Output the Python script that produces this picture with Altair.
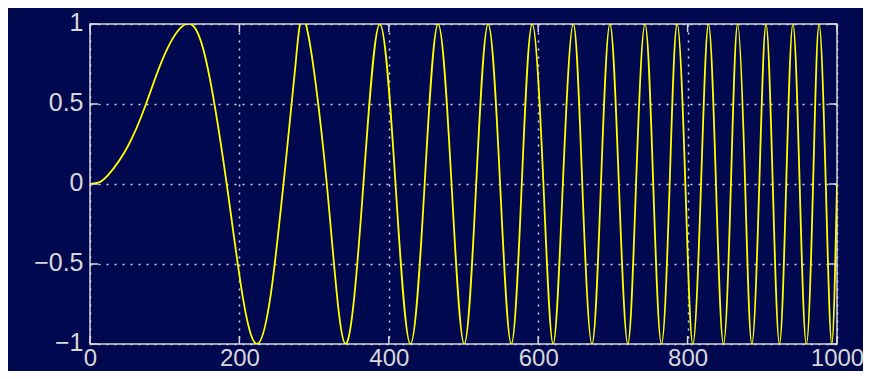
import altair as alt
import pandas as pd

# Axis tick values
x_ticks = [0, 200, 400, 600, 800, 1000]
y_ticks = [-1, -0.5, 0, 0.5, 1]

# Positions: crests (y = 1), troughs (y = -1), zero crossings (y = 0)
peak_x = [129, 289, 388, 466, 533, 592, 647, 696, 743, 786, 828, 867, 905, 941, 976]
trough_x = [224, 342, 429, 501, 564, 620, 672, 720, 765, 807, 848, 886, 923, 959, 993]
zero_x = [0, 183, 259, 317, 366, 409, 448, 484, 517, 549, 578, 607, 633, 659, 684,
          708, 731, 754, 776, 797, 818, 838, 858, 877, 896, 914, 932, 950, 968, 985, 1000]
# A few extra points read on the wide first lobes
extra_x = [12, 25, 50, 75, 100, 155, 205, 242, 275]
extra_y = [0.01, 0.06, 0.23, 0.5, 0.81, 0.78, -0.72, -0.69, 0.74]

rows = ([(x, 1.0) for x in peak_x] + [(x, -1.0) for x in trough_x]
        + [(x, 0.0) for x in zero_x] + list(zip(extra_x, extra_y)))
df = pd.DataFrame(rows, columns=["x", "y"]).sort_values("x")

W, H = 747, 320
NAVY = "#000850"
FG = "#d8d8d8"

xs = alt.Scale(domain=[0, 1000], nice=False, zero=False)
ys = alt.Scale(domain=[-1, 1], nice=False)

line = alt.Chart(df).mark_line(
    color="#ffff00", strokeWidth=1.8, interpolate="natural", clip=True
).encode(
    x=alt.X("x:Q", scale=xs, axis=alt.Axis(values=x_ticks, title=None, grid=True, ticks=False,
                                          domain=False, labelPadding=2, labelFontSize=24,
                                          labelFlush=False, labelOverlap=False,
                                          format="d")),
    y=alt.Y("y:Q", scale=ys, axis=alt.Axis(values=y_ticks, title=None, grid=True, ticks=False,
                                          domain=False, labelPadding=7, labelOffset=-2,
                                          labelFlush=False, labelOverlap=False,
                                          labelFontSize=25, format="~g")),
)

tx = pd.DataFrame({"x": x_ticks})
ty = pd.DataFrame({"y": y_ticks})
TL = 8
bottom = alt.Chart(tx).mark_rule(color=FG, strokeWidth=1.5).encode(
    x=alt.X("x:Q", scale=xs), y=alt.value(H), y2=alt.value(H - TL))
top = alt.Chart(tx).mark_rule(color=FG, strokeWidth=1.5).encode(
    x=alt.X("x:Q", scale=xs), y=alt.value(0), y2=alt.value(TL))
left = alt.Chart(ty).mark_rule(color=FG, strokeWidth=1.5).encode(
    y=alt.Y("y:Q", scale=ys), x=alt.value(0), x2=alt.value(TL))
right = alt.Chart(ty).mark_rule(color=FG, strokeWidth=1.5).encode(
    y=alt.Y("y:Q", scale=ys), x=alt.value(W), x2=alt.value(W - TL))

chart = alt.layer(line, bottom, top, left, right).properties(
    width=W, height=H,
    padding={"left": 82, "top": 16, "right": 26, "bottom": 27},
    autosize=alt.AutoSizeParams(type="none"),
    background=NAVY,
).configure_view(
    stroke=FG, strokeWidth=1.5
).configure_axis(
    gridColor=FG, gridDash=[2, 6], gridWidth=1.5, gridOpacity=1,
    labelColor=FG, labelFont="Liberation Sans",
)

chart.save("out.html", embed_options={"renderer": "svg", "actions": False})
